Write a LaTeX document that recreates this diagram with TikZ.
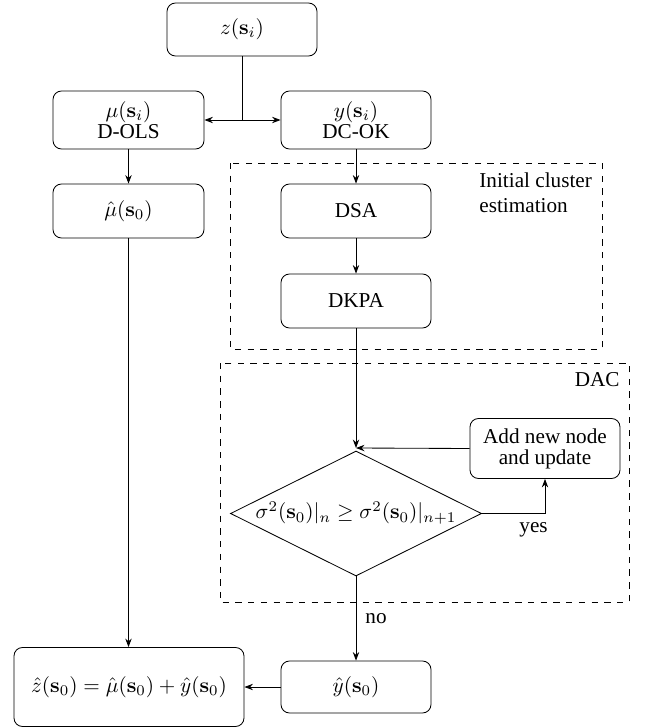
\documentclass[tikz,border=0pt]{standalone}
\usepackage[no-math]{fontspec}
\setmainfont{Liberation Serif}
\usetikzlibrary{shapes.geometric,arrows.meta}
\def\pu{0.4717pt}
\tikzset{
  every node/.style={font=\rmfamily},
  box/.style={draw, rounded corners=4pt, align=center, inner sep=2pt,
    minimum width=150*\pu, minimum height=54*\pu},
  arr/.style={-{Stealth[length=4pt,width=3pt]}},
  region/.style={draw, dashed},
  lbl/.style={inner sep=0pt},
}
\begin{document}
\begin{tikzpicture}[x=\pu, y=-\pu]
\useasboundingbox (0,0) rectangle (644,727);
% dashed regions
\draw[region] (230,163) rectangle (602,349);
\draw[region] (220,363) rectangle (629,602);
\node[lbl, anchor=north west, align=left] (ice) at (479,172) {Initial cluster\\estimation};
\node[lbl, anchor=base east] (dac) at (620,386) {DAC};
% nodes
\node[box, minimum height=53*\pu] (z) at (242,29.5) {$z(\mathbf{s}_i)$};
\node[box, minimum height=58*\pu, minimum width=151*\pu] (mu) at (128.5,120) {$\mu(\mathbf{s}_i)$\\[-2pt]D-OLS};
\node[box, minimum height=58*\pu] (y) at (356,120) {$y(\mathbf{s}_i)$\\[-2pt]DC-OK};
\node[box, minimum width=151*\pu] (muhat) at (128.5,211) {$\hat{\mu}(\mathbf{s}_0)$};
\node[box] (dsa) at (356,211) {DSA};
\node[box] (dkpa) at (356,301) {DKPA};
\node[box, minimum height=60*\pu] (add) at (545,448.5) {Add new node\\[-2pt]and update};
\node[draw, diamond, inner sep=0pt, minimum width=251*\pu, minimum height=125*\pu] (dec) at (356,513.5) {};
\node[lbl] (dectext) at (356,513) {$\sigma^2(\mathbf{s}_0)|_n \geq \sigma^2(\mathbf{s}_0)|_{n+1}$};
\node[box, minimum height=52*\pu] (yhat) at (356,687) {$\hat{y}(\mathbf{s}_0)$};
\node[box, minimum height=79*\pu, minimum width=230*\pu] (zhat) at (129,687) {$\hat{z}(\mathbf{s}_0) = \hat{\mu}(\mathbf{s}_0) + \hat{y}(\mathbf{s}_0)$};
% connectors
\coordinate (split) at (242,120);
\coordinate (join) at (356,448);
\draw (z.south) -- (split);
\draw[arr] (split) -- (mu.east);
\draw[arr] (split) -- (y.west);
\draw[arr] (mu.south) -- (muhat.north);
\draw[arr] (muhat.south) -- (zhat.north -| muhat.south);
\draw[arr] (y.south) -- (dsa.north);
\draw[arr] (dsa.south) -- (dkpa.north);
\draw[arr] (dkpa.south) -- (join);
\draw[arr] (add.west) -- (join);
\draw[arr] (dec.east) -| (add.south);
\draw[arr] (dec.south) -- (yhat.north);
\draw[arr] (yhat.west) -- (zhat.east);
\node[lbl, anchor=base west] (yes) at (519,532) {yes};
\node[lbl, anchor=base west] (no) at (365,623) {no};
\end{tikzpicture}
\end{document}
